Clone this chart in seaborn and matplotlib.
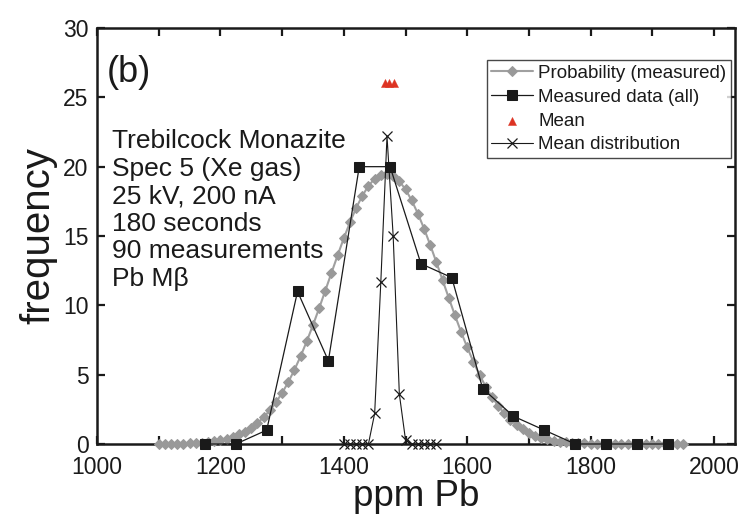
import matplotlib
matplotlib.use("Agg")
import matplotlib.pyplot as plt
import seaborn as sns
import pandas as pd
from matplotlib.ticker import MultipleLocator

# ---------------- data ----------------
# Probability (measured) curve
prob_x = list(range(1100, 1960, 10))
prob_y = [0.01, 0.01, 0.02, 0.02, 0.03, 0.05, 0.07, 0.10, 0.15, 0.20,
          0.28, 0.38, 0.52, 0.69, 0.90, 1.18, 1.51, 1.92, 2.42, 3.00,
          3.68, 4.46, 5.35, 6.33, 7.41, 8.57, 9.79, 11.06, 12.34, 13.61,
          14.84, 15.99, 17.02, 17.90, 18.62, 19.13, 19.43, 19.50, 19.33, 18.95,
          18.36, 17.57, 16.62, 15.54, 14.36, 13.11, 11.83, 10.55, 9.29, 8.09,
          6.97, 5.93, 4.98, 4.14, 3.40, 2.76, 2.21, 1.75, 1.37, 1.06,
          0.81, 0.61, 0.46, 0.34, 0.25, 0.18, 0.13, 0.09, 0.06, 0.04,
          0.03, 0.02, 0.01, 0.01, 0.0, 0.0, 0.0, 0.0, 0.0, 0.0,
          0.0, 0.0, 0.0, 0.0, 0.0, 0.0]

# Measured data (all) - histogram bin centres and counts
meas_x = [1175, 1225, 1275, 1325, 1375, 1425, 1475, 1525,
          1575, 1625, 1675, 1725, 1775, 1825, 1875, 1925]
meas_y = [0, 0, 1, 11, 6, 20, 20, 13, 12, 4, 2, 1, 0, 0, 0, 0]

# Mean
mean_x = [1467, 1474, 1481]
mean_y = [26, 26, 26]

# Mean distribution
mdist_x = list(range(1400, 1560, 10))
mdist_y = [0, 0, 0, 0, 0.02, 2.2, 11.7, 22.2, 15.0, 3.6, 0.3, 0, 0, 0, 0, 0]

x_ticks = [1000, 1200, 1400, 1600, 1800, 2000]
y_ticks = [0, 5, 10, 15, 20, 25, 30]

info_lines = ["Trebilcock Monazite", "Spec 5 (Xe gas)", "25 kV, 200 nA",
              "180 seconds", "90 measurements", "Pb M\u03b2"]

# ---------------- plot ----------------
sns.set_theme(style="white")
plt.rcParams['font.family'] = ['Liberation Sans', 'DejaVu Sans']

fig = plt.figure(figsize=(7.39, 5.28), dpi=100)
ax = fig.add_axes([97 / 739, 84 / 528, 638 / 739, 416 / 528])

df_prob = pd.DataFrame({"x": prob_x, "y": prob_y})
df_meas = pd.DataFrame({"x": meas_x, "y": meas_y})
df_mean = pd.DataFrame({"x": mean_x, "y": mean_y})
df_md = pd.DataFrame({"x": mdist_x, "y": mdist_y})

sns.lineplot(data=df_prob, x="x", y="y", ax=ax, color="#a0a0a0", lw=1.5,
             marker="D", markersize=5.2, markeredgecolor="#999999",
             markerfacecolor="#999999", label="Probability (measured)",
             clip_on=False, zorder=3)
sns.lineplot(data=df_meas, x="x", y="y", ax=ax, color="#1a1a1a", lw=0.9,
             marker="s", markersize=7.8, markeredgecolor="#1a1a1a",
             markerfacecolor="#1a1a1a", label="Measured data (all)",
             clip_on=False, zorder=4)
sns.scatterplot(data=df_mean, x="x", y="y", ax=ax, color="#dd3322",
                marker="^", s=34, edgecolor="#dd3322", linewidth=0.3,
                label="Mean", zorder=5)
sns.lineplot(data=df_md, x="x", y="y", ax=ax, color="#1a1a1a", lw=0.8,
             marker="x", markersize=6.5, markeredgewidth=0.9,
             markeredgecolor="#1a1a1a", label="Mean distribution",
             clip_on=False, zorder=6)

ax.set_xlim(1000, 2034)
ax.set_ylim(0, 30)
ax.set_xticks(x_ticks)
ax.set_xticklabels([str(t) for t in x_ticks])
ax.xaxis.set_minor_locator(MultipleLocator(100))
ax.set_yticks(y_ticks)
ax.set_yticklabels([str(t) for t in y_ticks])

ax.tick_params(axis="both", which="both", direction="in", width=1.6,
               color="#1a1a1a", labelsize=16.5, labelcolor="#1a1a1a",
               top=True, right=True, bottom=True, left=True)
ax.tick_params(axis="x", which="major", length=6, pad=9)
ax.tick_params(axis="y", which="major", length=6, pad=6)
ax.tick_params(axis="x", which="minor", length=6)

for s in ax.spines.values():
    s.set_visible(True)
    s.set_color("#1a1a1a")
    s.set_linewidth(1.8)

ax.set_xlabel("ppm Pb", fontsize=26.5, color="#1a1a1a", labelpad=0)
ax.set_ylabel("frequency", fontsize=29, color="#1a1a1a", labelpad=4)

ax.text(0.015, 0.894, "(b)", transform=ax.transAxes, fontsize=26,
        color="#1a1a1a", va="center", ha="left")
for i, line in enumerate(info_lines):
    ax.text(0.024, 0.728 - i * 0.0663, line, transform=ax.transAxes,
            fontsize=19, color="#1a1a1a", va="center", ha="left")

leg = ax.legend(loc="upper right", bbox_to_anchor=(0.9937, 0.923),
                borderaxespad=0, frameon=True, fancybox=False,
                fontsize=13.5, handlelength=2.2, handletextpad=0.3,
                labelspacing=0.36, borderpad=0.25)
leg.get_frame().set_edgecolor("#1a1a1a")
leg.get_frame().set_linewidth(1.0)
for t in leg.get_texts():
    t.set_color("#1a1a1a")

fig.savefig("out.png", dpi=100)
